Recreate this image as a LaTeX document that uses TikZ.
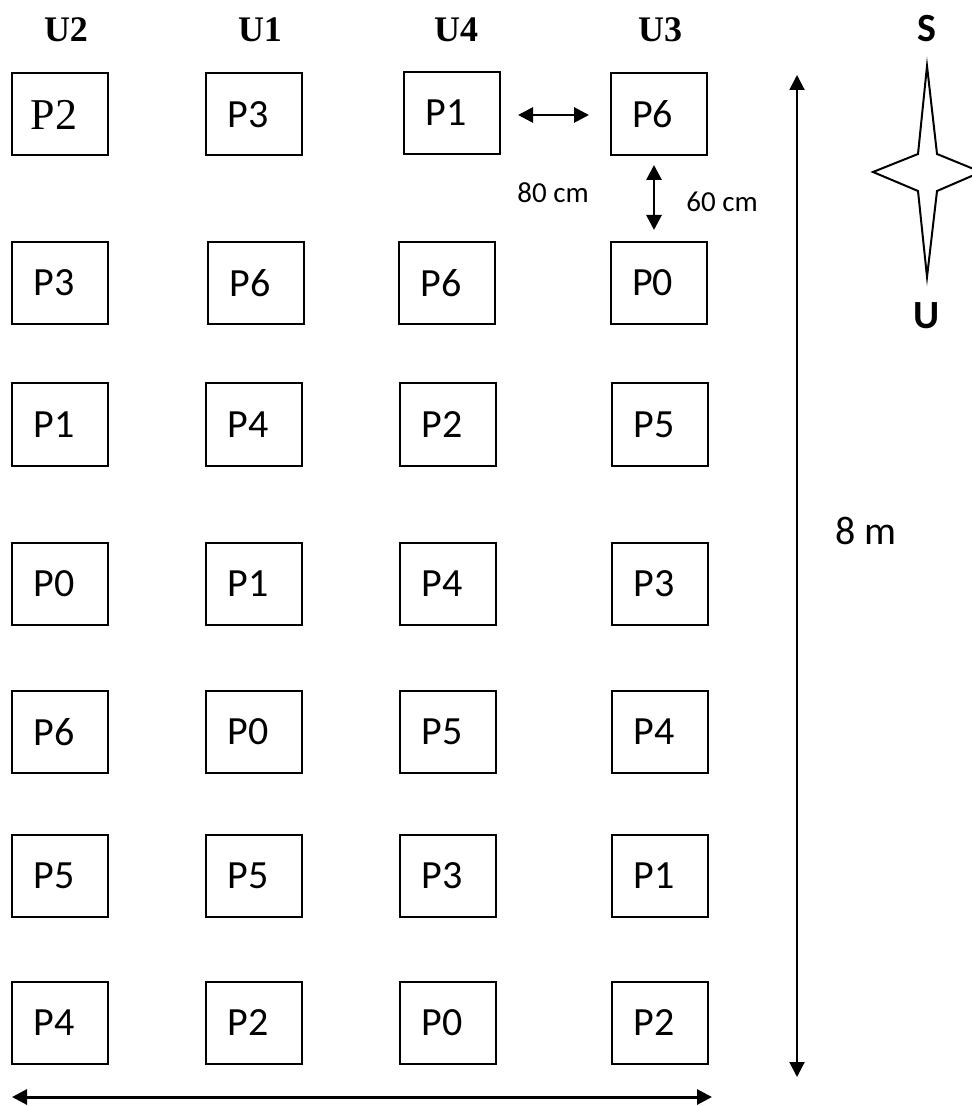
\documentclass[tikz,border=0pt]{standalone}
\usepackage{fontspec}
\setmainfont{Carlito}
\newfontfamily\tnr{Liberation Serif}
\usetikzlibrary{arrows.meta}
\tikzset{
  pbox/.style={draw, line width=1pt, minimum width=48pt, minimum height=41pt, inner sep=0pt,
    font=\fontsize{20}{20}\selectfont, execute at begin node={\hspace*{-6pt}}},
  colhead/.style={inner sep=0pt, font=\tnr\bfseries\fontsize{18}{18}\selectfont},
  compasslbl/.style={inner sep=0pt, font=\bfseries\fontsize{20}{20}\selectfont},
  dimlbl/.style={inner sep=0pt, font=\fontsize{14.5}{14.5}\selectfont},
  biglbl/.style={inner sep=0pt, font=\fontsize{20}{20}\selectfont},
  dbl/.style={{Triangle[length=7.5pt,width=7.5pt]}-{Triangle[length=7.5pt,width=7.5pt]}},
}
\begin{document}
\begin{tikzpicture}[x=0.5pt,y=-0.5pt]
\useasboundingbox (0,0) rectangle (972,1106);
% column headers
\node[colhead] (hU2) at (66,30) {U2};
\node[colhead] (hU1) at (260,30) {U1};
\node[colhead] (hU4) at (456,30) {U4};
\node[colhead] (hU3) at (660,30) {U3};
% row 1
\node[pbox, font=\tnr\fontsize{22}{22}\selectfont] (r1c1) at (60,114.5) {P2};
\node[pbox] (r1c2) at (254,114.5) {P3};
\node[pbox] (r1c3) at (452,113) {P1};
\node[pbox] (r1c4) at (658.5,114.5) {P6};
% row 2
\node[pbox] (r2c1) at (60,283) {P3};
\node[pbox] (r2c2) at (256,283) {P6};
\node[pbox] (r2c3) at (447,283) {P6};
\node[pbox] (r2c4) at (658.5,283) {P0};
% row 3
\node[pbox] (r3c1) at (60,424.5) {P1};
\node[pbox] (r3c2) at (254,424.5) {P4};
\node[pbox] (r3c3) at (448,424.5) {P2};
\node[pbox] (r3c4) at (660,424.5) {P5};
% row 4
\node[pbox] (r4c1) at (60,584) {P0};
\node[pbox] (r4c2) at (254,584) {P1};
\node[pbox] (r4c3) at (448,584) {P4};
\node[pbox] (r4c4) at (660,584) {P3};
% row 5
\node[pbox] (r5c1) at (60,732) {P6};
\node[pbox] (r5c2) at (254,732) {P0};
\node[pbox] (r5c3) at (448,732) {P5};
\node[pbox] (r5c4) at (660,732) {P4};
% row 6
\node[pbox] (r6c1) at (60,876) {P5};
\node[pbox] (r6c2) at (254,876) {P5};
\node[pbox] (r6c3) at (448,876) {P3};
\node[pbox] (r6c4) at (660,876) {P1};
% row 7
\node[pbox] (r7c1) at (60,1023) {P4};
\node[pbox] (r7c2) at (254,1023) {P2};
\node[pbox] (r7c3) at (448,1023) {P0};
\node[pbox] (r7c4) at (660,1023) {P2};
% spacing arrows
\coordinate (hA) at (518,115);
\coordinate (hB) at (589,115);
\draw[dbl, line width=1.4pt] (hA) -- (hB);
\coordinate (vA) at (654,165);
\coordinate (vB) at (654,230);
\draw[dbl, line width=1.4pt] (vA) -- (vB);
\node[dimlbl] (l80) at (553,193) {80 cm};
\node[dimlbl] (l60) at (722,202) {60 cm};
% big vertical arrow
\coordinate (bvT) at (797,75);
\coordinate (bvB) at (797,1077);
\draw[dbl, line width=1pt] (bvT) -- (bvB);
\node[biglbl] (l8m) at (866,531) {8 m};
% bottom horizontal arrow
\coordinate (bhL) at (12,1097);
\coordinate (bhR) at (712,1097);
\draw[dbl, line width=1.5pt] (bhL) -- (bhR);
% compass
\draw[line width=1pt, line join=miter] (927,66) -- (937,154) -- (981,172) -- (937,191) -- (927,277)
  -- (918,191) -- (873,172) -- (918,154) -- cycle;
\node[compasslbl] (cS) at (927,29) {S};
\node[compasslbl] (cU) at (927,316) {U};
\end{tikzpicture}
\end{document}
